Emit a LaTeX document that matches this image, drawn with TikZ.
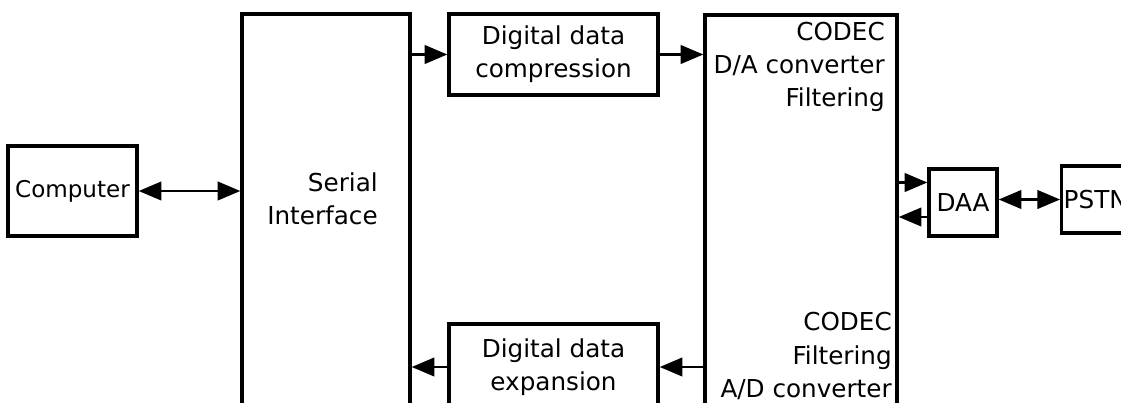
\documentclass[tikz,border=0pt]{standalone}
\usepackage{fontspec}
\setmainfont{DejaVu Sans}
\usetikzlibrary{arrows.meta,calc}

\tikzset{
	blk/.style={draw,rectangle,line width=2.6pt,inner sep=0pt,align=center},
	lbl/.style={align=right,inner sep=0pt},
	arr/.style={line width=1.6pt,-{Triangle[length=17pt,width=14pt]}},
	biarr/.style={line width=1.6pt,{Triangle[length=17pt,width=14pt]}-{Triangle[length=17pt,width=14pt]}}
}

\begin{document}
\begin{tikzpicture}[x=0.75pt,y=-0.75pt,
	every node/.append style={font=\fontsize{18.5}{25}\selectfont}]
	\useasboundingbox (0,0) rectangle (1121,403);
	\clip (0,0) rectangle (1121,403);
	% boxes
	\node[blk,minimum width=96.75pt,minimum height=67.5pt,font=\fontsize{17.3}{24}\selectfont] (computer) at(72.5,191){Computer};
	\node[blk,minimum width=126pt,minimum height=319.5pt] (serial) at(326,227){};
	\node[blk,minimum width=156.75pt,minimum height=60.75pt] (comp) at(553.5,54.5){Digital data\\compression};
	\node[blk,minimum width=156.75pt,minimum height=64.5pt] (exp) at(553.5,367){Digital data\\expansion};
	\node[blk,minimum width=144pt,minimum height=318.75pt] (codec) at(801,227.5){};
	\node[blk,minimum width=51pt,minimum height=50.25pt] (daa) at(963,202.5){DAA};
	\node[blk,anchor=west,inner xsep=1.5pt,minimum width=49.5pt,minimum height=50.25pt] (pstn) at(1060,199.5){PSTN};
	% texts in the tall boxes
	\node[lbl,anchor=east] (serialtxt) at(378,199){Serial\\Interface};
	\node[lbl,anchor=east] (codectop) at(885,67){CODEC\\D/A converter\\Filtering};
	\node[lbl,anchor=east] (codecbot) at(892,356){CODEC\\Filtering\\A/D converter};
	\coordinate (daain) at ($(daa.west)+(0,-20)$);
	\coordinate (daaout) at ($(daa.west)+(0,14.5)$);
	% connectors
	\draw[biarr] (computer.east) --(serial.west |- computer.east);
	\draw[arr] (serial.east |- comp.west) --(comp.west);
	\draw[arr] (comp.east) --(codec.west |- comp.east);
	\draw[arr] (codec.west |- exp.east) --(exp.east);
	\draw[arr] (exp.west) --(serial.east |- exp.west);
	\draw[arr] (codec.east |- daain) --(daain);
	\draw[arr] (daaout) --(codec.east |- daaout);
	\draw[biarr] (daa.east |- pstn.west) --(pstn.west);
\end{tikzpicture}
\end{document}
